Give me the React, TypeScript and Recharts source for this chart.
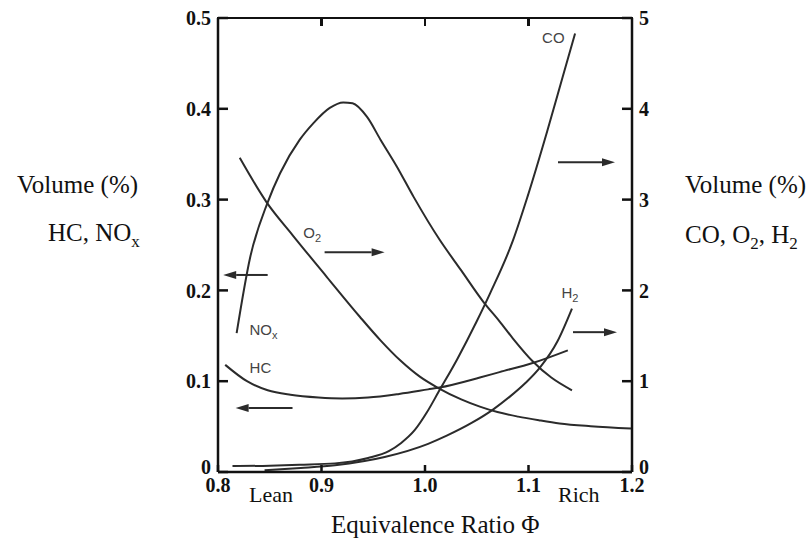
import React from 'react';
import { ComposedChart, Line, XAxis, YAxis, ReferenceLine, ReferenceDot } from 'recharts';

// ---- axis ticks ----
const phiTicks = [0.8, 0.9, 1.0, 1.1, 1.2];
const leftTicks = [0, 0.1, 0.2, 0.3, 0.4, 0.5];
const rightTicks = [0, 1, 2, 3, 4, 5];

// ---- series (left axis: HC, NOx, volume %) ----
const noxPhi = [0.818, 0.831, 0.848, 0.86, 0.879, 0.892, 0.908, 0.921, 0.93, 0.944, 0.957, 0.973, 0.989, 1.014, 1.035, 1.056, 1.072, 1.085, 1.104, 1.122, 1.142];
const noxVol = [0.153, 0.236, 0.297, 0.329, 0.366, 0.384, 0.401, 0.407, 0.406, 0.391, 0.366, 0.336, 0.303, 0.256, 0.222, 0.188, 0.166, 0.147, 0.122, 0.104, 0.09];

const hcPhi = [0.807, 0.828, 0.848, 0.87, 0.897, 0.92, 0.945, 0.975, 1.003, 1.014, 1.053, 1.072, 1.104, 1.138];
const hcVol = [0.118, 0.1, 0.09, 0.085, 0.082, 0.081, 0.082, 0.086, 0.091, 0.093, 0.104, 0.11, 0.12, 0.134];

// ---- series (right axis: CO, O2, H2, volume %) ----
const o2Phi = [0.821, 0.847, 0.872, 0.905, 0.937, 0.957, 0.976, 0.995, 1.012, 1.035, 1.053, 1.07, 1.09, 1.11, 1.13, 1.16, 1.199];
const o2Vol = [3.46, 2.97, 2.61, 2.15, 1.71, 1.45, 1.23, 1.05, 0.93, 0.8, 0.72, 0.66, 0.61, 0.57, 0.535, 0.505, 0.48];

const coPhi = [0.814, 0.85, 0.879, 0.913, 0.945, 0.965, 0.977, 0.99, 1.002, 1.013, 1.031, 1.05, 1.063, 1.085, 1.099, 1.118, 1.133, 1.145];
const coVol = [0.065, 0.07, 0.08, 0.095, 0.155, 0.23, 0.32, 0.46, 0.66, 0.88, 1.24, 1.66, 1.97, 2.55, 3.03, 3.75, 4.35, 4.83];

const h2Phi = [0.845, 0.88, 0.913, 0.961, 1.003, 1.021, 1.045, 1.066, 1.082, 1.097, 1.111, 1.128, 1.142];
const h2Vol = [0.02, 0.045, 0.075, 0.165, 0.31, 0.4, 0.54, 0.69, 0.83, 0.98, 1.15, 1.44, 1.8];

const zip = (xs: number[], ys: number[]) => xs.map((x, i) => ({ x, y: ys[i] }));
const noxData = zip(noxPhi, noxVol);
const hcData = zip(hcPhi, hcVol);
const o2Data = zip(o2Phi, o2Vol);
const coData = zip(coPhi, coVol);
const h2Data = zip(h2Phi, h2Vol);

// ---- layout ----
const W = 812;
const H = 544;
const MARGIN_TOP = 18;
const LEFT_AXIS_W = 218;
const RIGHT_AXIS_W = 180;
const BOTTOM_AXIS_H = 72;
const PLOT_LEFT = LEFT_AXIS_W;
const PLOT_RIGHT = W - RIGHT_AXIS_W;
const PHI_MIN = phiTicks[0];
const PHI_MAX = phiTicks[phiTicks.length - 1];

const INK = '#2b2b2b';
const FRAME = '#111';
const SERIF = '"Liberation Serif", "Times New Roman", serif';
const SANS = '"Liberation Sans", Arial, sans-serif';

const Arrow = (p: any) => {
  const { x1, y1, x2, y2 } = p;
  const dx = x2 - x1, dy = y2 - y1;
  const len = Math.hypot(dx, dy) || 1;
  const ux = dx / len, uy = dy / len;
  const hl = 13, hw = 4;
  const bx = x2 - ux * hl, by = y2 - uy * hl;
  return (
    <g>
      <line x1={x1} y1={y1} x2={bx} y2={by} stroke={INK} strokeWidth={2} />
      <polygon points={`${x2},${y2} ${bx - uy * hw},${by + ux * hw} ${bx + uy * hw},${by - ux * hw}`} fill={INK} />
    </g>
  );
};

const curveLabel = (main: string, sub?: string) => (p: any) => (
  <text x={p.cx} y={p.cy} textAnchor="middle" fontFamily={SANS} fontSize={15} fill="#444">
    {main}
    {sub ? <tspan fontSize={11} dy={4}>{sub}</tspan> : null}
  </text>
);

const tickStyle = { fill: '#111', fontSize: 20, fontWeight: 'bold' as const, fontFamily: SERIF };
const axisStroke = { stroke: FRAME, strokeWidth: 2.5 };

const makeYTick = (anchor: 'start' | 'end', fmt: (v: number) => string) => (p: any) => {
  const v = p.payload.value;
  const lift = v === 0 ? -5 : 0;
  return (
    <text x={p.x} y={p.y + lift} dy="0.355em" textAnchor={anchor} {...tickStyle}>
      {fmt(v)}
    </text>
  );
};

const XTick = (p: any) => (
  <text x={p.x} y={p.y} dy="0.71em" textAnchor="middle" {...tickStyle}>
    {p.payload.value.toFixed(1)}
  </text>
);

const textStyle: React.CSSProperties = {
  position: 'absolute',
  fontFamily: SERIF,
  fontSize: 25,
  color: '#111',
  whiteSpace: 'nowrap',
  lineHeight: 1,
};

// top frame of the plot box (drawn as page decoration above the svg)
const TopFrame = () => {
  const span = PLOT_RIGHT - PLOT_LEFT;
  return (
    <>
      <div
        style={{
          position: 'absolute',
          left: PLOT_LEFT - 1.25,
          top: MARGIN_TOP - 1.25,
          width: span + 2.5,
          height: 2.5,
          background: FRAME,
          zIndex: 5,
        }}
      />
      {phiTicks.slice(1, -1).map((t) => (
        <div
          key={t}
          style={{
            position: 'absolute',
            left: PLOT_LEFT + ((t - PHI_MIN) / (PHI_MAX - PHI_MIN)) * span - 1.25,
            top: MARGIN_TOP,
            width: 2.5,
            height: 8,
            background: FRAME,
            zIndex: 5,
          }}
        />
      ))}
    </>
  );
};

export default function App() {
  return (
    <div style={{ position: 'absolute', left: 0, top: 0, width: W, height: H, background: '#fff' }}>
      <ComposedChart width={W} height={H} margin={{ top: MARGIN_TOP, right: 0, bottom: 0, left: 0 }}>
        <XAxis
          xAxisId="bottom"
          dataKey="x"
          type="number"
          domain={[PHI_MIN, PHI_MAX]}
          ticks={phiTicks}
          interval={0}
          allowDataOverflow
          height={BOTTOM_AXIS_H}
          tickSize={-7}
          tickMargin={13}
          axisLine={axisStroke}
          tickLine={axisStroke}
          tick={XTick}
        />
        <YAxis
          yAxisId="left"
          orientation="left"
          type="number"
          domain={[0, 0.5]}
          ticks={leftTicks}
          interval={0}
          allowDataOverflow
          width={LEFT_AXIS_W}
          tickSize={-10}
          tickMargin={17}
          axisLine={axisStroke}
          tickLine={axisStroke}
          tick={makeYTick('end', (v) => (v === 0 ? '0' : v.toFixed(1)))}
        />
        <YAxis
          yAxisId="right"
          orientation="right"
          type="number"
          domain={[0, 5]}
          ticks={rightTicks}
          interval={0}
          allowDataOverflow
          width={RIGHT_AXIS_W}
          tickSize={-10}
          tickMargin={17}
          axisLine={axisStroke}
          tickLine={axisStroke}
          tick={makeYTick('start', (v) => String(v))}
        />

        <Line xAxisId="bottom" yAxisId="left" data={noxData} dataKey="y" type="monotone" stroke={INK} strokeWidth={2} dot={false} isAnimationActive={false} />
        <Line xAxisId="bottom" yAxisId="left" data={hcData} dataKey="y" type="monotone" stroke={INK} strokeWidth={2} dot={false} isAnimationActive={false} />
        <Line xAxisId="bottom" yAxisId="right" data={o2Data} dataKey="y" type="monotone" stroke={INK} strokeWidth={2} dot={false} isAnimationActive={false} />
        <Line xAxisId="bottom" yAxisId="right" data={coData} dataKey="y" type="monotone" stroke={INK} strokeWidth={2} dot={false} isAnimationActive={false} />
        <Line xAxisId="bottom" yAxisId="right" data={h2Data} dataKey="y" type="monotone" stroke={INK} strokeWidth={2} dot={false} isAnimationActive={false} />

        <ReferenceLine xAxisId="bottom" yAxisId="left" segment={[{ x: 0.848, y: 0.217 }, { x: 0.805, y: 0.217 }]} shape={Arrow} />
        <ReferenceLine xAxisId="bottom" yAxisId="left" segment={[{ x: 0.872, y: 0.0705 }, { x: 0.817, y: 0.0705 }]} shape={Arrow} />
        <ReferenceLine xAxisId="bottom" yAxisId="right" segment={[{ x: 0.903, y: 2.42 }, { x: 0.961, y: 2.42 }]} shape={Arrow} />
        <ReferenceLine xAxisId="bottom" yAxisId="right" segment={[{ x: 1.1285, y: 3.41 }, { x: 1.1836, y: 3.41 }]} shape={Arrow} />
        <ReferenceLine xAxisId="bottom" yAxisId="right" segment={[{ x: 1.143, y: 1.54 }, { x: 1.1855, y: 1.54 }]} shape={Arrow} />

        <ReferenceDot xAxisId="bottom" yAxisId="right" x={1.124} y={4.72} r={0} shape={curveLabel('CO')} />
        <ReferenceDot xAxisId="bottom" yAxisId="right" x={0.891} y={2.58} r={0} shape={curveLabel('O', '2')} />
        <ReferenceDot xAxisId="bottom" yAxisId="left" x={0.844} y={0.151} r={0} shape={curveLabel('NO', 'x')} />
        <ReferenceDot xAxisId="bottom" yAxisId="left" x={0.841} y={0.109} r={0} shape={curveLabel('HC')} />
        <ReferenceDot xAxisId="bottom" yAxisId="right" x={1.14} y={1.92} r={0} shape={curveLabel('H', '2')} />
      </ComposedChart>

      <TopFrame />

      <div style={{ ...textStyle, left: 17, top: 172 }}>Volume (%)</div>
      <div style={{ ...textStyle, left: 48, top: 220 }}>
        HC, NO<sub style={{ fontSize: 17 }}>x</sub>
      </div>
      <div style={{ ...textStyle, left: 685, top: 172 }}>Volume (%)</div>
      <div style={{ ...textStyle, left: 685, top: 222 }}>
        CO, O<sub style={{ fontSize: 17 }}>2</sub>, H<sub style={{ fontSize: 17 }}>2</sub>
      </div>
      <div style={{ ...textStyle, left: 249, top: 484, fontSize: 22 }}>Lean</div>
      <div style={{ ...textStyle, left: 558, top: 484, fontSize: 22 }}>Rich</div>
      <div style={{ ...textStyle, left: 331, top: 512 }}>Equivalence Ratio Φ</div>
    </div>
  );
}
